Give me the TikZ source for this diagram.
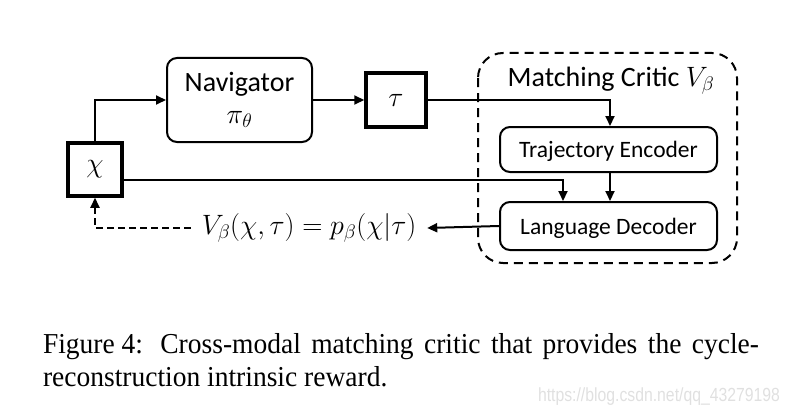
\RequirePackage{fix-cm}
\documentclass[tikz,border=0pt]{standalone}
\usepackage{fontspec}
\setmainfont{Carlito}
\newfontfamily\capfont{Liberation Serif}
\newfontfamily\wmfont{Liberation Sans}
\usetikzlibrary{arrows.meta,calc}
\begin{document}
\begin{tikzpicture}[x=1pt,y=-1pt,
  line width=2pt,
  arr/.style={-{Triangle[length=10pt,width=9pt]}},
  rbox/.style={draw,rounded corners=10pt,line width=2pt,inner sep=0pt},
  sbox/.style={draw,line width=3.5pt,inner sep=0pt},
  lbl/.style={font=\fontsize{28}{34}\selectfont},
  sml/.style={font=\fontsize{23.5}{28}\selectfont,text depth=0pt},
  captxt/.style={anchor=base west,inner sep=0pt,font=\capfont\fontsize{27.5}{33}\selectfont},
]
\useasboundingbox (0,0) rectangle (789,412);
% critic frame
\draw[dashed,dash pattern=on 9pt off 6pt,line width=2pt,rounded corners=25pt] (478,53) rectangle (737,263);
\node[lbl,anchor=base] (title) at (611,86) {Matching Critic $V_\beta$};
% nodes
\node[rbox,minimum width=145pt,minimum height=84pt,lbl,align=center] (nav) at (239.5,100) {Navigator\\[-2pt]$\pi_\theta$};
\node[sbox,minimum width=60pt,minimum height=54pt,lbl] (tau) at (396,100) {$\tau$};
\node[sbox,minimum width=54pt,minimum height=53pt,lbl] (chi) at (95,169.5) {$\chi$};
\node[rbox,minimum width=217pt,minimum height=45pt,sml] (te) at (608.5,149.5) {Trajectory Encoder};
\node[rbox,minimum width=217pt,minimum height=48pt,sml] (ld) at (608.5,226) {Language Decoder};
\node[lbl,inner xsep=10pt,inner ysep=0pt] (f) at (309,228) {$V_\beta(\chi,\tau)=p_\beta(\chi|\tau)$};
% connectors
\draw[arr] (chi.north) |- (nav.west);
\draw[arr] (nav.east) -- (tau.west);
\draw[arr] (tau.east) -| ([xshift=1.5pt]te.north);
\draw[arr] ([yshift=-10.5pt]chi.east) -| ([xshift=-45.5pt]ld.north);
\draw[arr] ([xshift=1.5pt]te.south) -- ([xshift=1.5pt]ld.north);
\draw[arr] (ld.west) -- (f.east);
\draw[arr,dash pattern=on 7pt off 4pt] (f.west) -| (chi.south);
% caption
\node[captxt] (cap1) at (42,353)
  {\scalebox{1}[1.05]{\hbox to 716pt{Figure 4:\hskip 0.5em plus 1fil Cross-modal\hfil\ matching\hfil\ critic\hfil\ that\hfil\ provides\hfil\ the\hfil\ cycle-}}};
\node[captxt] (cap2) at (42,386) {\scalebox{1}[1.05]{reconstruction intrinsic reward.}};
\node[anchor=base west,inner sep=0pt,font=\wmfont\fontsize{19}{22}\selectfont,text=black!12] (wm) at (537,401) {\scalebox{0.83}[1]{https://blog.csdn.net/qq\_43279198}};
\end{tikzpicture}
\end{document}
